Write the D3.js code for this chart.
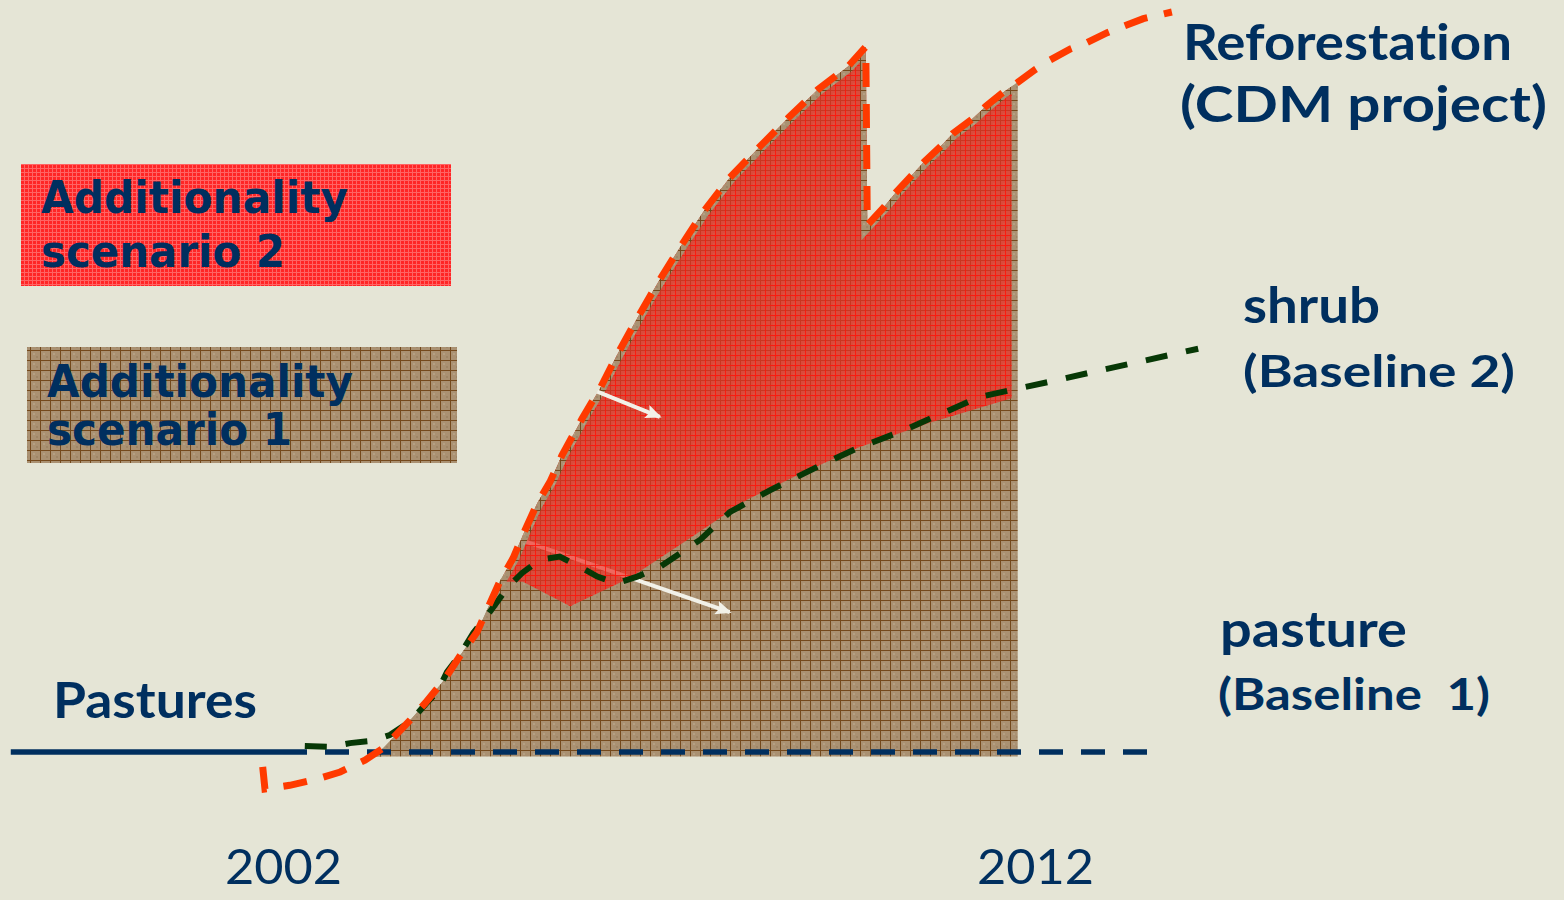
<!DOCTYPE html>
<meta charset="utf-8">
<script src="https://d3js.org/d3.v7.min.js"></script>
<head>
  <style>
    body { margin: 0; background: #e5e5d6; }
    text { font-variant-ligatures: none; }
  </style>
</head>
<body>
<div id="my_dataviz"></div>
<script>

  // ---- data (years, carbon stock in arbitrary units) ----
  // Reforestation (CDM project), red dashed curve, with the harvest drop around 2009.75
  var refoYears = [2001.73, 2001.76, 2002.09, 2002.47, 2002.76, 2003.09, 2003.33, 2003.69, 2003.89, 2004.14,
                   2004.38, 2004.58, 2004.73, 2004.89, 2005.06, 2005.22, 2005.38, 2005.55, 2005.71, 2005.98,
                   2006.22, 2006.44, 2006.71, 2006.99, 2007.28, 2007.59, 2007.94, 2008.32, 2008.72, 2009.11,
                   2009.51, 2009.75, 2009.77, 2009.98, 2010.14, 2010.34, 2010.51, 2010.74, 2010.91, 2011.16,
                   2011.34, 2011.57, 2011.77, 2012.0, 2012.2, 2012.47, 2012.68, 2012.96, 2013.16, 2013.44, 2013.82]
  var refoValues = [-2.0, -5.0, -4.5, -3.6, -2.7, -1.1, 0.5, 4.3, 6.6, 9.7,
                    13.4, 16.2, 19.6, 23.2, 26.2, 30.0, 33.6, 36.5, 40.1, 45.1,
                    49.2, 53.6, 58.6, 63.5, 68.2, 73.0, 77.6, 81.6, 85.7, 89.5,
                    92.6, 95.3, 71.2, 73.5, 75.5, 77.7, 79.6, 81.8, 83.6, 85.5,
                    87.2, 89.1, 90.5, 92.2, 93.5, 95.0, 95.8, 97.2, 98.0, 99.1, 100.0]

  // shrub (Baseline 2), green dashed curve
  var shrubYears = [2002.29, 2002.63, 2002.89, 2003.18, 2003.42, 2003.69, 2003.89, 2004.05, 2004.18, 2004.35,
                    2004.53, 2004.69, 2004.82, 2004.99, 2005.18, 2005.42, 2005.68, 2005.95, 2006.18, 2006.44,
                    2006.71, 2007.01, 2007.55, 2007.94, 2008.48, 2009.14, 2009.67, 2010.24, 2010.75, 2011.27,
                    2011.81, 2012.36, 2012.92, 2013.46, 2014.17]
  var shrubValues = [0.8, 0.7, 1.2, 1.5, 2.3, 4.1, 6.4, 8.1, 10.8, 13.1,
                     16.1, 18.1, 19.9, 22.3, 24.2, 26.0, 26.4, 25.0, 23.7, 22.8,
                     23.7, 25.0, 28.7, 32.4, 35.4, 38.7, 41.2, 43.4, 45.7, 48.0,
                     49.2, 50.4, 51.7, 52.9, 54.5]

  // pasture (Baseline 1): solid before 2002, dashed after
  var pastureSolidYears = [1998.38, 2002]
  var pastureDashedYears = [2002, 2013.49]
  var pastureValue = 0

  // Additionality scenario 1 (brown): under the reforestation curve between these years
  var scen1Years = [2003.16, 2011.77]
  var scen1Floor = -0.6

  // Additionality scenario 2 (red): between reforestation and this lower edge
  var scen2LowerYears = [2004.93, 2005.19, 2005.82, 2006.61, 2007.41, 2008.17, 2008.88, 2009.67, 2010.60, 2011.69]
  var scen2LowerValues = [23.0, 23.0, 19.7, 23.5, 28.9, 34.1, 37.6, 41.2, 44.5, 47.8]

  // the two pointer arrows
  var arrowFromYears = [2006.18, 2005.18]
  var arrowFromValues = [48.7, 28.6]
  var arrowToYears = [2007.01, 2007.94]
  var arrowToValues = [45.3, 18.9]

  var xTicks = [2002, 2012]
  var legendLines = [["Additionality", "scenario 2"], ["Additionality", "scenario 1"]]
  var seriesLabels = ["Reforestation", "(CDM project)", "shrub", "(Baseline 2)", "pasture", "(Baseline  1)", "Pastures"]

  // ---- setup ----
  var width = 1564, height = 900
  var navy = "#002f5f"

  var svg = d3.select("#my_dataviz")
    .append("svg")
    .attr("width", width)
    .attr("height", height)

  svg.append("rect").attr("width", width).attr("height", height).attr("fill", "#e5e5d6")

  var x = d3.scaleLinear().domain([2002, 2012]).range([283, 1035])
  var y = d3.scaleLinear().domain([0, 100]).range([752, 12])

  function zip(xs, ys) { return xs.map(function(v, i) { return {year: v, value: ys[i]} }) }
  var refo = zip(refoYears, refoValues)
  var shrub = zip(shrubYears, shrubValues)
  var scen2Lower = zip(scen2LowerYears, scen2LowerValues)

  // linear read of the reforestation curve at a given year (for area edges)
  function refoAt(yr) {
    for (var i = 0; i < refo.length - 1; i++) {
      if (yr >= refo[i].year && yr <= refo[i + 1].year) {
        var t = (yr - refo[i].year) / (refo[i + 1].year - refo[i].year)
        return {year: yr, value: refo[i].value + t * (refo[i + 1].value - refo[i].value)}
      }
    }
  }

  var line = d3.line().x(function(d) { return x(d.year) }).y(function(d) { return y(d.value) })

  // ---- patterns ----
  var defs = svg.append("defs")
  var pb = defs.append("pattern").attr("id", "brownGrid").attr("patternUnits", "userSpaceOnUse")
    .attr("width", 10).attr("height", 10)
  pb.append("rect").attr("width", 10).attr("height", 10).attr("fill", "#aa9172")
  pb.append("rect").attr("x", 3).attr("y", 3).attr("width", 2).attr("height", 2).attr("fill", "#b5a083")
  pb.append("rect").attr("x", 6).attr("y", 6).attr("width", 2).attr("height", 2).attr("fill", "#9f8667")
  pb.append("path").attr("d", "M0,0.5H10M0.5,0V10").attr("stroke", "#74491c").attr("stroke-width", 1)

  var pr = defs.append("pattern").attr("id", "redGrid").attr("patternUnits", "userSpaceOnUse")
    .attr("width", 10).attr("height", 10)
  pr.append("rect").attr("width", 10).attr("height", 10).attr("fill", "rgba(236,46,36,0.7)")
  pr.append("path").attr("d", "M0,5.5H10M5.5,0V10").attr("stroke", "#ff1408").attr("stroke-width", 1).attr("opacity", 0.85)

  var pf = defs.append("pattern").attr("id", "redFine").attr("patternUnits", "userSpaceOnUse")
    .attr("width", 4).attr("height", 4)
  pf.append("rect").attr("width", 4).attr("height", 4).attr("fill", "#ff2626")
  pf.append("path").attr("d", "M0,0.5H4M0.5,0V4").attr("stroke", "#ff8e8e").attr("stroke-width", 1).attr("opacity", 0.6)

  var mk = defs.append("marker").attr("id", "head").attr("markerUnits", "userSpaceOnUse")
    .attr("viewBox", "0 0 16 14").attr("refX", 14).attr("refY", 7)
    .attr("markerWidth", 16).attr("markerHeight", 14).attr("orient", "auto")
  mk.append("path").attr("d", "M0,0L16,7L0,14L3,7Z").attr("fill", "#f2f1e8")

  // ---- scenario 1 (brown) area ----
  var brownPoly = [{year: scen1Years[0], value: scen1Floor}]
    .concat(refo.filter(function(d) { return d.year > scen1Years[0] && d.year <= scen1Years[1] }))
    .concat([{year: scen1Years[1], value: scen1Floor}])

  defs.append("clipPath").attr("id", "brownClip").append("path").attr("d", line(brownPoly) + "Z")

  svg.append("path")
    .attr("d", line(brownPoly) + "Z")
    .attr("fill", "url(#brownGrid)")

  // arrow that sits behind the red area
  function drawArrow(i) {
    svg.append("line")
      .attr("x1", x(arrowFromYears[i])).attr("y1", y(arrowFromValues[i]))
      .attr("x2", x(arrowToYears[i])).attr("y2", y(arrowToValues[i]))
      .attr("stroke", "#f2f1e8").attr("stroke-width", 4)
      .attr("marker-end", "url(#head)")
  }
  drawArrow(1)

  // ---- scenario 2 (red) area ----
  var lo = scen2LowerYears[0], hi = scen2LowerYears[scen2LowerYears.length - 1]
  var redPoly = [refoAt(lo)]
    .concat(refo.filter(function(d) { return d.year > lo && d.year < hi }))
    .concat([refoAt(hi)])
    .concat(scen2Lower.slice().reverse())

  svg.append("path")
    .attr("d", line(redPoly) + "Z")
    .attr("fill", "url(#redGrid)")

  // brown rim just inside the reforestation curve
  svg.append("path")
    .attr("d", line(refo))
    .attr("fill", "none")
    .attr("stroke", "url(#brownGrid)")
    .attr("stroke-width", 12)
    .attr("clip-path", "url(#brownClip)")

  drawArrow(0)

  // ---- baseline / curves ----
  svg.append("path")
    .attr("d", line(pastureSolidYears.map(function(v) { return {year: v, value: pastureValue} })))
    .attr("stroke", navy).attr("stroke-width", 5.5).attr("fill", "none")

  svg.append("path")
    .attr("d", line(pastureDashedYears.map(function(v) { return {year: v, value: pastureValue} })))
    .attr("stroke", navy).attr("stroke-width", 5.5).attr("fill", "none")
    .attr("stroke-dasharray", "24,18")

  svg.append("path")
    .attr("d", line(shrub))
    .attr("stroke", "#073806").attr("stroke-width", 6).attr("fill", "none")
    .attr("stroke-dasharray", "22,19")

  svg.append("path")
    .attr("d", line(refo))
    .attr("stroke", "#ff3a00").attr("stroke-width", 7).attr("fill", "none")
    .attr("stroke-dasharray", "24,17")

  // ---- legend boxes ----
  var boxes = [
    {x: 21, y: 164, w: 430, h: 122, fill: "url(#redFine)", tx: 41, ty: [213, 267], tl: [307, 244]},
    {x: 27, y: 347, w: 430, h: 116, fill: "url(#brownGrid)", tx: 47, ty: [397, 445], tl: [306, 245]}
  ]
  boxes.forEach(function(b, i) {
    svg.append("rect").attr("x", b.x).attr("y", b.y).attr("width", b.w).attr("height", b.h).attr("fill", b.fill)
    legendLines[i].forEach(function(t, j) {
      svg.append("text")
        .attr("x", b.tx).attr("y", b.ty[j])
        .attr("textLength", b.tl[j]).attr("lengthAdjust", "spacingAndGlyphs")
        .style("font-family", "'DejaVu Sans', Verdana, sans-serif")
        .style("font-weight", "bold").style("font-size", "44px")
        .attr("fill", navy)
        .text(t)
    })
  })

  // ---- series labels ----
  var labelPos = [
    {x: 1183, y: 60, w: 329, s: 50},
    {x: 1180, y: 122, w: 367, s: 50},
    {x: 1243, y: 323, w: 137, s: 50},
    {x: 1243, y: 387, w: 272, s: 44},
    {x: 1220, y: 647, w: 187, s: 50},
    {x: 1218, y: 710, w: 272, s: 44},
    {x: 53, y: 718, w: 204, s: 50}
  ]
  seriesLabels.forEach(function(t, i) {
    var p = labelPos[i]
    svg.append("text")
      .attr("x", p.x).attr("y", p.y)
      .attr("textLength", p.w).attr("lengthAdjust", "spacingAndGlyphs")
      .style("font-family", "Lato, 'Noto Sans', sans-serif")
      .style("font-weight", "bold").style("font-size", p.s + "px")
      .style("white-space", "pre")
      .attr("fill", navy)
      .text(t)
  })

  // ---- x axis (tick labels only) ----
  var xAxis = d3.axisBottom(x).tickValues(xTicks).tickSize(0).tickFormat(d3.format("d"))
  var gx = svg.append("g").attr("transform", "translate(0,884)").call(xAxis)
  gx.select(".domain").remove()
  gx.selectAll("text")
    .attr("y", 0).attr("dy", 0)
    .attr("textLength", 117).attr("lengthAdjust", "spacingAndGlyphs")
    .style("font-family", "Lato, 'Noto Sans', sans-serif")
    .style("font-size", "48px")
    .attr("fill", navy)

</script>
</body>
